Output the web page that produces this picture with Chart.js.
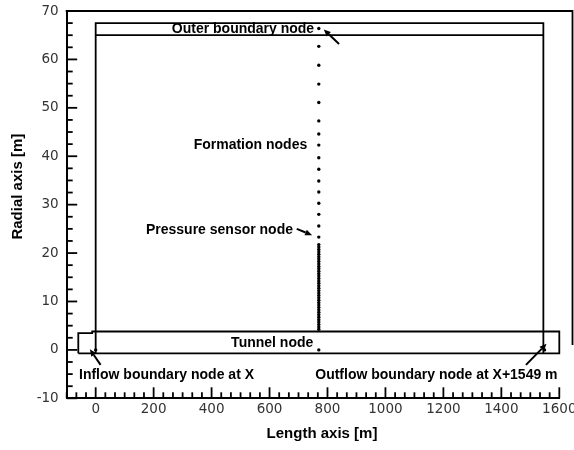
<!DOCTYPE html>
<html>
<head>
<meta charset="utf-8">
<script src="https://cdn.jsdelivr.net/npm/chart.js@4.4.1/dist/chart.umd.min.js"></script>
<style>
  html, body { margin: 0; padding: 0; background: #fff; }
  canvas { display: block; }
</style>
</head>
<body>
<canvas id="mesh" width="574" height="450"></canvas>
<script>
// Axis tick labels
const xTicks = [0, 200, 400, 600, 800, 1000, 1200, 1400, 1600];
const yTicks = [-10, 0, 10, 20, 30, 40, 50, 60, 70];

// Radial column of nodes at the sensor cross-section [m]
const nodeColumnX = 770;
const outerNodeY = [66.4];
const formationNodeY = [62.7, 58.8, 54.9, 51.1, 47.3, 44.6, 42.3, 39.7, 37.3, 34.9, 32.6, 30.3, 28.0, 25.6];
const sensorNodeY = [23.3];
const refinedNodeY = [21.75, 21.25, 20.75, 20.25, 19.75, 19.25, 18.75, 18.25, 17.75, 17.25, 16.75, 16.25,
  15.75, 15.25, 14.75, 14.25, 13.75, 13.25, 12.75, 12.25, 11.75, 11.25, 10.75, 10.25, 9.75, 9.25,
  8.75, 8.25, 7.75, 7.25, 6.75, 6.25, 5.75, 5.25, 4.75, 4.25];
const tunnelNodeY = [0];

// Tunnel boundary nodes (inflow at X, outflow at X+1549 m)
const boundaryNodeX = [0, 1549];
const boundaryNodeY = [0, 0];

// Model domain outlines [x, y] in metres
const domainOutline = [[0, -0.7], [0, 67.5], [1545, 67.5], [1545, -0.7]];
const outerLayerLine = [[0, 65], [1545, 65]];
const tunnelOutline = [[-60, -0.7], [-60, 3.45], [-12, 3.45], [-12, 3.8], [1600, 3.8], [1600, -0.7], [-60, -0.7]];

// Callout texts and their arrows (data coordinates)
const calloutText = ['Outer boundary node', 'Formation nodes', 'Pressure sensor node', 'Tunnel node',
  'Inflow boundary node at X', 'Outflow boundary node at X+1549 m'];
const calloutX = [754, 730, 681, 751, -57.5, 1594];
const calloutY = [66.35, 42.3, 24.7, 1.4, -5.2, -5.2];
const calloutAlign = ['right', 'right', 'right', 'right', 'left', 'right'];
const arrowFrom = [[840, 63.2], [694, 25.0], [17, -3.1], [1485, -3.1]];
const arrowTo = [[787, 66.2], [747, 23.7], [-20, 0.15], [1556, 1.25]];

const pts = (xs, ys) => ys.map((y, i) => ({ x: Array.isArray(xs) ? xs[i] : xs, y }));
const poly = arr => arr.map(([x, y]) => ({ x, y }));

const lineSet = data => ({
  data, showLine: true, pointRadius: 0, borderColor: '#000', borderWidth: 1.8,
  backgroundColor: '#000', fill: false, tension: 0, clip: false
});
const dotSet = (data, r) => ({
  data, showLine: false, pointRadius: r, pointHoverRadius: r, pointBorderWidth: 0,
  pointBackgroundColor: '#000', borderColor: '#000', clip: false
});

const LABEL_FONT = 'bold 14px "Liberation Sans", Arial, Helvetica, sans-serif';
const TITLE_FONT = 'bold 15px "Liberation Sans", Arial, Helvetica, sans-serif';

// Inward tick marks, frame, callouts and axis titles
const decorations = {
  id: 'decorations',
  afterDatasetsDraw(chart) {
    const { ctx, chartArea: a, scales: { x, y } } = chart;
    ctx.save();
    ctx.strokeStyle = '#000';
    ctx.fillStyle = '#000';
    ctx.lineWidth = 1.8;

    // minor/major ticks on the left axis (every 2.5 m, major every 10 m)
    for (let k = -4; k <= 28; k++) {
      const v = k * 2.5;
      const py = y.getPixelForValue(v);
      const len = (k % 4 === 0) ? 10.5 : 6;
      ctx.beginPath(); ctx.moveTo(a.left, py); ctx.lineTo(a.left + len, py); ctx.stroke();
    }
    // ticks on the bottom axis (six intervals per 200 m)
    for (let k = -3; k <= 48; k++) {
      const v = k * 200 / 6;
      const px = x.getPixelForValue(v);
      const len = (k % 6 === 0) ? 11 : 6;
      ctx.beginPath(); ctx.moveTo(px, a.bottom); ctx.lineTo(px, a.bottom - len); ctx.stroke();
    }

    // frame: top edge and right edge
    const rightEdge = chart.width - 1.5;
    ctx.beginPath();
    ctx.moveTo(a.left - 1, a.top);
    ctx.lineTo(rightEdge, a.top);
    ctx.lineTo(rightEdge, y.getPixelForValue(1));
    ctx.stroke();

    // callout arrows
    ctx.lineWidth = 2;
    arrowFrom.forEach((f, i) => {
      const x0 = x.getPixelForValue(f[0]), y0 = y.getPixelForValue(f[1]);
      const x1 = x.getPixelForValue(arrowTo[i][0]), y1 = y.getPixelForValue(arrowTo[i][1]);
      const ang = Math.atan2(y1 - y0, x1 - x0);
      const hl = 7, hw = 3;
      const bx = x1 - hl * Math.cos(ang), by = y1 - hl * Math.sin(ang);
      ctx.beginPath(); ctx.moveTo(x0, y0); ctx.lineTo(bx, by); ctx.stroke();
      ctx.beginPath();
      ctx.moveTo(x1, y1);
      ctx.lineTo(bx + hw * Math.sin(ang), by - hw * Math.cos(ang));
      ctx.lineTo(bx - hw * Math.sin(ang), by + hw * Math.cos(ang));
      ctx.closePath(); ctx.fill();
    });

    // callout texts
    ctx.font = LABEL_FONT;
    ctx.textBaseline = 'middle';
    calloutText.forEach((t, i) => {
      ctx.textAlign = calloutAlign[i];
      ctx.fillText(t, x.getPixelForValue(calloutX[i]), y.getPixelForValue(calloutY[i]));
    });

    // axis titles
    ctx.font = TITLE_FONT;
    ctx.textAlign = 'center';
    ctx.fillText('Length axis [m]', (a.left + a.right) / 2 + 9, 434);
    ctx.save();
    ctx.translate(18, (a.top + a.bottom) / 2 - 18);
    ctx.rotate(-Math.PI / 2);
    ctx.fillText('Radial axis [m]', 0, 0);
    ctx.restore();

    ctx.restore();
  }
};

const tickFont = { family: '"DejaVu Sans", sans-serif', size: 13.5 };
const plain = v => String(v);

new Chart(document.getElementById('mesh'), {
  type: 'scatter',
  data: {
    datasets: [
      lineSet(poly(domainOutline)),
      lineSet(poly(outerLayerLine)),
      lineSet(poly(tunnelOutline)),
      dotSet(pts(nodeColumnX, outerNodeY), 1.7),
      dotSet(pts(nodeColumnX, formationNodeY), 1.7),
      dotSet(pts(nodeColumnX, sensorNodeY), 1.7),
      dotSet(pts(nodeColumnX, refinedNodeY), 1.7),
      dotSet(pts(nodeColumnX, tunnelNodeY), 1.7),
      dotSet(pts(boundaryNodeX, boundaryNodeY), 1.7)
    ]
  },
  options: {
    responsive: false,
    animation: false,
    devicePixelRatio: 1,
    layout: { padding: { top: 11, right: 14.7, left: 0, bottom: 0 } },
    plugins: { legend: { display: false }, tooltip: { enabled: false } },
    events: [],
    scales: {
      x: {
        type: 'linear', min: -100, max: 1600,
        afterFit: s => { s.height = 51.7; s.paddingLeft = 0; s.paddingRight = 0; },
        afterBuildTicks: s => { s.ticks = xTicks.map(v => ({ value: v })); },
        grid: { display: false, drawTicks: false },
        border: { display: true, color: '#000', width: 2 },
        ticks: { color: '#333', font: tickFont, padding: 3, maxRotation: 0, autoSkip: false, callback: plain }
      },
      y: {
        type: 'linear', min: -10, max: 70,
        afterFit: s => { s.width = 66.7; s.paddingTop = 0; s.paddingBottom = 0; },
        afterBuildTicks: s => { s.ticks = yTicks.map(v => ({ value: v })); },
        grid: { display: false, drawTicks: false },
        border: { display: true, color: '#000', width: 2 },
        ticks: { color: '#333', font: tickFont, padding: 8, autoSkip: false, callback: plain }
      }
    }
  },
  plugins: [decorations]
});
</script>
</body>
</html>
